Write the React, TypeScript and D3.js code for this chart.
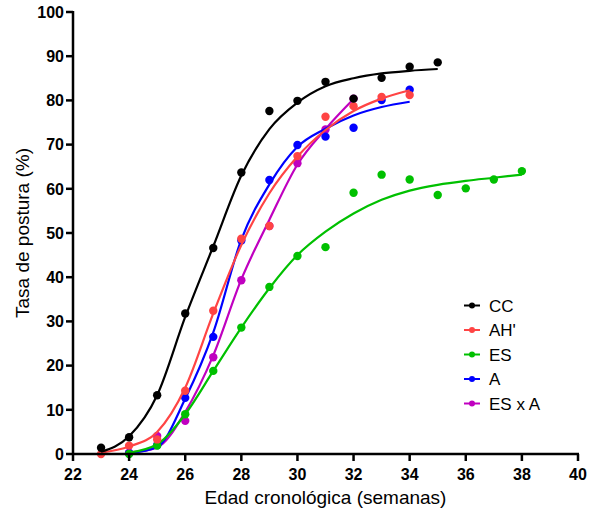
import React from "react";
import * as d3 from "d3";

// observed weeks / values per group
const ccWeeks = [23, 24, 25, 26, 27, 28, 29, 30, 31, 32, 33, 34, 35];
const ccObs = [1.4, 3.8, 13.3, 31.8, 46.6, 63.7, 77.6, 79.9, 84.2, 80.4, 85.1, 87.6, 88.6];
const ccFit = [0.5, 4.0, 13.3, 31.0, 47.0, 63.0, 73.5, 79.5, 83.2, 85.0, 86.1, 86.7, 87.1];

const ahWeeks = [23, 24, 25, 26, 27, 28, 29, 30, 31, 32, 33, 34];
const ahObs = [0, 1.9, 3.3, 14.3, 32.4, 48.7, 51.6, 67.4, 76.3, 78.7, 80.8, 81.2];
const ahFit = [0.3, 1.7, 5.0, 15.0, 31.8, 47.3, 59.0, 67.3, 73.3, 77.6, 80.4, 82.3];

const esWeeks = [24, 25, 26, 27, 28, 29, 30, 31, 32, 33, 34, 35, 36, 37, 38];
const esObs = [0, 1.9, 9.0, 18.8, 28.6, 37.8, 44.8, 46.8, 59.1, 63.2, 62.1, 58.6, 60.1, 62.1, 64.0];
const esFit = [0.3, 2.2, 9.0, 18.8, 28.6, 37.5, 45.0, 50.3, 54.4, 57.5, 59.6, 60.9, 61.8, 62.5, 63.2];

const aWeeks = [24, 25, 26, 27, 28, 29, 30, 31, 32, 33, 34];
const aObs = [0.2, 2.0, 12.7, 26.5, 48.3, 62.0, 69.9, 71.8, 73.8, 80.1, 82.4];
const aFit = [0.2, 1.6, 12.5, 27.5, 48.5, 61.0, 69.5, 73.6, 76.6, 78.5, 79.7];

const esaWeeks = [24, 25, 26, 27, 28, 29, 30, 31, 32];
const esaObs = [0.3, 4.1, 7.5, 21.9, 39.3, 51.6, 65.8, 73.4, 80.4];
const esaFit = [0.3, 1.5, 9.5, 22.3, 39.5, 53.0, 65.5, 73.5, 80.3];

const seriesNames = ["CC", "AH'", "ES", "A", "ES x A"];
const seriesColors = ["#000000", "#ff4444", "#00c000", "#0000ff", "#c000c0"];

const xTicks = [22, 24, 26, 28, 30, 32, 34, 36, 38, 40];
const yTicks = [0, 10, 20, 30, 40, 50, 60, 70, 80, 90, 100];

const groups = [
  { weeks: ccWeeks, obs: ccObs, fit: ccFit },
  { weeks: ahWeeks, obs: ahObs, fit: ahFit },
  { weeks: esWeeks, obs: esObs, fit: esFit },
  { weeks: aWeeks, obs: aObs, fit: aFit },
  { weeks: esaWeeks, obs: esaObs, fit: esaFit },
];

const font = "'Liberation Sans', Arial, sans-serif";

export default function App() {
  const width = 595;
  const height = 510;
  const left = 73;
  const right = 578;
  const top = 12;
  const bottom = 454;

  const x = d3.scaleLinear().domain([22, 40]).range([left, right]);
  const y = d3.scaleLinear().domain([0, 100]).range([bottom, top]);

  const line = d3
    .line<[number, number]>()
    .x((d) => x(d[0]))
    .y((d) => y(d[1]))
    .curve(d3.curveMonotoneX);

  // draw last series first so CC ends up on top
  const order = [4, 3, 2, 1, 0];

  return (
    <svg
      width={width}
      height={height}
      style={{ position: "absolute", left: 0, top: 0, background: "#fff" }}
    >
      {order.map((i) => {
        const g = groups[i];
        const pts = g.weeks.map((w, j) => [w, g.fit[j]] as [number, number]);
        return (
          <g key={i}>
            <path d={line(pts) || ""} fill="none" stroke={seriesColors[i]} strokeWidth={2.2} />
            {g.weeks.map((w, j) => (
              <circle key={j} cx={x(w)} cy={y(g.obs[j])} r={4.2} fill={seriesColors[i]} />
            ))}
          </g>
        );
      })}

      {/* axes */}
      <g stroke="#000" strokeWidth={2.5}>
        <line x1={left} x2={left} y1={top - 1} y2={bottom + 1} />
        <line x1={left - 1} x2={right + 1} y1={bottom} y2={bottom} />
        {yTicks.map((t) => (
          <line key={"y" + t} x1={left - 7} x2={left} y1={y(t)} y2={y(t)} />
        ))}
        {xTicks.map((t) => (
          <line key={"x" + t} x1={x(t)} x2={x(t)} y1={bottom} y2={bottom + 7} />
        ))}
      </g>
      <g fontFamily={font} fontSize={16} fontWeight="bold" fill="#000">
        {yTicks.map((t) => (
          <text key={t} x={left - 9} y={y(t)} dy="0.36em" textAnchor="end">
            {t}
          </text>
        ))}
        {xTicks.map((t) => (
          <text key={t} x={x(t)} y={bottom + 26} textAnchor="middle">
            {t}
          </text>
        ))}
      </g>
      <text
        x={(left + right) / 2}
        y={504}
        textAnchor="middle"
        fontFamily={font}
        fontSize={19}
      >
        Edad cronológica (semanas)
      </text>
      <text
        transform={`translate(29, ${(top + bottom) / 2}) rotate(-90)`}
        textAnchor="middle"
        fontFamily={font}
        fontSize={19}
      >
        Tasa de postura (%)
      </text>

      {/* legend */}
      <g fontFamily={font} fontSize={17}>
        {seriesNames.map((n, i) => {
          const ly = 305.5 + i * 24.5;
          return (
            <g key={n}>
              <line x1={464} x2={480} y1={ly} y2={ly} stroke={seriesColors[i]} strokeWidth={2} />
              <circle cx={472} cy={ly} r={3} fill={seriesColors[i]} />
              <text x={489} y={ly} dy="0.36em">
                {n}
              </text>
            </g>
          );
        })}
      </g>
    </svg>
  );
}
